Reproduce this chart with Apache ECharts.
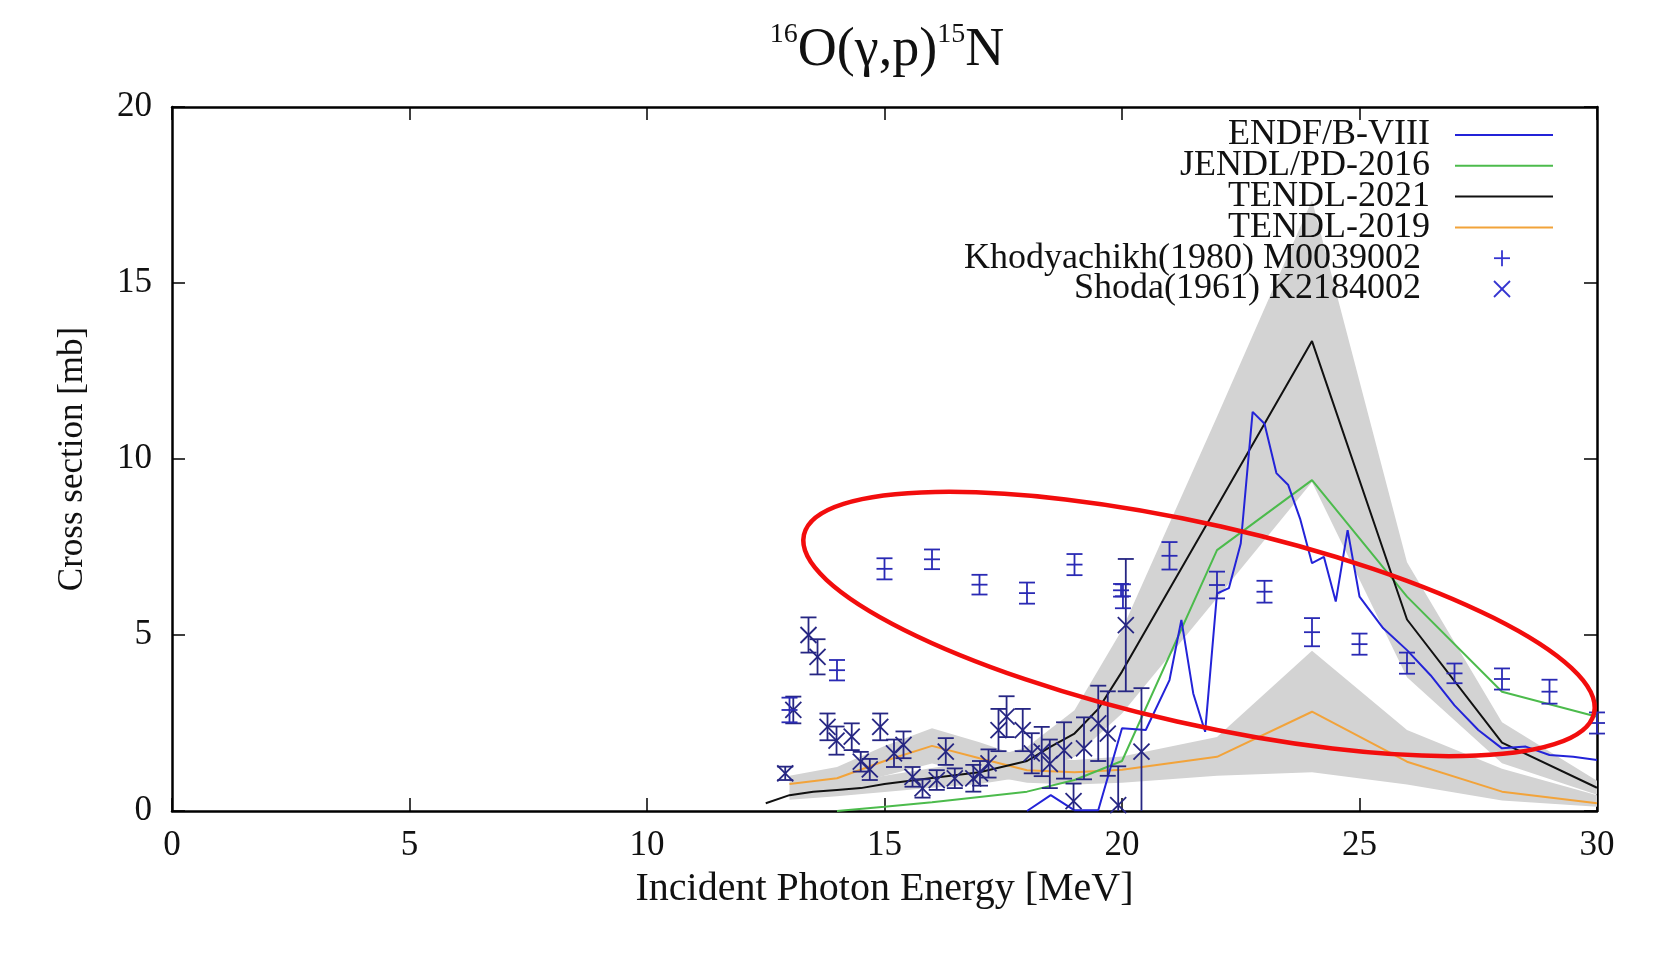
<!DOCTYPE html>
<html>
<head>
<meta charset="utf-8">
<script src="https://cdn.jsdelivr.net/npm/echarts@6/dist/echarts.min.js"></script>
<style>
  html, body { margin: 0; padding: 0; background: #fff; }
  #chart { width: 1653px; height: 961px; }
</style>
</head>
<body>
<div id="chart"></div>
<script>
// ---- Evaluated cross sections, 16O(γ,p)15N  (energy in MeV, cross section in mb) ----
const endfE   = [18.0, 18.5, 19.0, 19.5, 20.0, 20.5, 21.0, 21.25, 21.5, 21.75, 22.0, 22.25, 22.5, 22.75, 23.0, 23.25, 23.5, 23.75, 24.0, 24.25, 24.5, 24.75, 25.0, 25.5, 26.0, 26.5, 27.0, 27.5, 28.0, 28.5, 29.0, 29.5, 30.0];
const endfXS  = [0.0, 0.45, 0.02, 0.02, 2.35, 2.3, 3.72, 5.43, 3.34, 2.25, 6.18, 6.33, 7.6, 11.34, 11.0, 9.6, 9.26, 8.3, 7.04, 7.22, 5.95, 7.98, 6.09, 5.19, 4.57, 3.85, 3.0, 2.3, 1.78, 1.83, 1.59, 1.54, 1.45];

const jendlE  = [14.0, 15.0, 16.0, 17.0, 18.0, 19.0, 20.0, 22.0, 24.0, 26.0, 28.0, 30.0];
const jendlXS = [0.0, 0.12, 0.25, 0.4, 0.55, 0.88, 1.42, 7.41, 9.4, 6.09, 3.39, 2.68];

const t21E    = [12.5, 13.0, 13.5, 14.0, 14.5, 15.0, 16.0, 17.0, 18.0, 18.5, 19.0, 19.5, 20.0, 22.0, 24.0, 26.0, 28.0, 30.0];
const t21XS   = [0.22, 0.45, 0.55, 0.6, 0.65, 0.77, 0.94, 1.1, 1.42, 1.83, 2.2, 2.9, 3.96, 8.65, 13.35, 5.44, 1.94, 0.66];

const t19E    = [13.0, 14.0, 15.0, 16.0, 17.0, 18.0, 19.0, 20.0, 22.0, 24.0, 26.0, 28.0, 30.0];
const t19XS   = [0.77, 0.93, 1.42, 1.85, 1.5, 1.16, 1.1, 1.17, 1.54, 2.82, 1.4, 0.55, 0.22];

// ---- Uncertainty bands (lower / upper limits) ----
const t21BandE  = [13.0, 14.0, 15.0, 16.0, 17.0, 18.0, 19.0, 20.0, 22.0, 24.0, 26.0, 28.0, 30.0];
const t21BandLo = [0.32, 0.42, 0.54, 0.66, 0.77, 0.98, 1.54, 2.77, 6.05, 9.35, 3.8, 1.36, 0.46];
const t21BandHi = [0.58, 0.78, 1.0, 1.22, 1.43, 1.82, 2.86, 5.15, 11.2, 17.35, 7.07, 2.52, 0.86];

const t19BandE  = [13.0, 14.0, 15.0, 16.0, 17.0, 18.0, 19.0, 20.0, 22.0, 24.0, 26.0, 28.0, 30.0];
const t19BandLo = [0.55, 0.65, 1.0, 1.35, 1.05, 0.8, 0.75, 0.8, 1.0, 1.1, 0.75, 0.3, 0.12];
const t19BandHi = [1.0, 1.25, 1.85, 2.35, 1.95, 1.5, 1.45, 1.55, 2.1, 4.55, 2.3, 1.2, 0.45];

// ---- Experimental data (EXFOR) ----
const khodE   = [13.0, 14.0, 15.0, 16.0, 17.0, 18.0, 19.0, 19.98, 20.02, 21.0, 22.0, 23.0, 24.0, 25.0, 26.0, 27.0, 28.0, 29.0, 30.0];
const khodXS  = [2.87, 4.0, 6.88, 7.15, 6.43, 6.19, 7.0, 6.27, 6.1, 7.25, 6.42, 6.23, 5.08, 4.74, 4.2, 3.91, 3.75, 3.39, 2.5];
const khodErr = [0.35, 0.29, 0.3, 0.28, 0.28, 0.3, 0.3, 0.18, 0.34, 0.39, 0.38, 0.31, 0.4, 0.3, 0.3, 0.28, 0.3, 0.34, 0.3];

const shodaE   = [12.91, 13.08, 13.4, 13.59, 13.8, 13.99, 14.31, 14.5, 14.69, 14.91, 15.2, 15.4, 15.59, 15.8, 16.1, 16.29, 16.48, 16.87, 17.01, 17.19, 17.4, 17.57, 17.91, 18.1, 18.31, 18.48, 18.78, 18.98, 19.2, 19.5, 19.7, 19.92, 20.08, 20.41];
const shodaXS  = [1.07, 2.87, 5.0, 4.38, 2.39, 2.0, 2.11, 1.4, 1.18, 2.39, 1.64, 1.88, 0.97, 0.64, 0.88, 1.69, 0.93, 0.93, 1.07, 1.35, 2.3, 2.68, 2.3, 1.64, 1.69, 1.34, 1.72, 0.28, 1.78, 2.49, 2.2, 0.17, 5.28, 1.69];
const shodaErr = [0.19, 0.38, 0.5, 0.5, 0.38, 0.4, 0.38, 0.28, 0.3, 0.38, 0.39, 0.38, 0.28, 0.26, 0.28, 0.38, 0.28, 0.38, 0.35, 0.4, 0.6, 0.58, 0.6, 0.57, 0.7, 0.69, 0.8, 0.5, 0.88, 1.07, 1.2, 1.1, 1.88, 1.8];

// ---- Axis ticks ----
const xTicks = [0, 5, 10, 15, 20, 25, 30];
const yTicks = [0, 5, 10, 15, 20];

const SERIF = '"Liberation Serif", "DejaVu Serif", serif';
const C_ENDF = '#2323d8', C_JENDL = '#4cbb4c', C_T21 = '#111111', C_T19 = '#f2a33a';
const C_KHOD = '#2a2ab4', C_SHODA = '#262683', C_BAND = '#d3d3d3';

const zip = (xs, ys) => xs.map((x, i) => [x, ys[i]]);

function lineSeries(name, xs, ys, color) {
  return {
    name, type: 'line', data: zip(xs, ys), showSymbol: false, symbol: 'none',
    lineStyle: { color, width: 2 }, z: 3, animation: false, silent: true
  };
}

function bandSeries(name, es, lo, hi) {
  return {
    name, type: 'custom', z: 1, silent: true, animation: false,
    data: es.map((e, i) => [e, lo[i], hi[i]]),
    renderItem: function (params, api) {
      if (params.dataIndex !== 0) return null;
      const pts = [];
      for (let i = 0; i < es.length; i++) pts.push(api.coord([es[i], hi[i]]));
      for (let i = es.length - 1; i >= 0; i--) pts.push(api.coord([es[i], lo[i]]));
      return { type: 'polygon', shape: { points: pts }, style: { fill: C_BAND, stroke: null } };
    }
  };
}

function errorSeries(name, es, ys, errs, color, mark) {
  return {
    name, type: 'custom', z: 4, silent: true, animation: false,
    data: es.map((e, i) => [e, ys[i], errs[i]]),
    renderItem: function (params, api) {
      const x = api.value(0), y = api.value(1), e = api.value(2);
      const c = api.coord([x, y]);
      const lo = api.coord([x, Math.max(0, y - e)]);
      const hi = api.coord([x, y + e]);
      const cap = 8, m = 8;
      const st = { stroke: color, lineWidth: 1.8, fill: null };
      const kids = [
        { type: 'line', shape: { x1: c[0], y1: lo[1], x2: c[0], y2: hi[1] }, style: st },
        { type: 'line', shape: { x1: c[0] - cap, y1: hi[1], x2: c[0] + cap, y2: hi[1] }, style: st }
      ];
      if (y - e > 0) kids.push({ type: 'line', shape: { x1: c[0] - cap, y1: lo[1], x2: c[0] + cap, y2: lo[1] }, style: st });
      if (mark === 'plus') {
        kids.push({ type: 'line', shape: { x1: c[0] - m, y1: c[1], x2: c[0] + m, y2: c[1] }, style: st });
      } else {
        kids.push({ type: 'line', shape: { x1: c[0] - m, y1: c[1] - m, x2: c[0] + m, y2: c[1] + m }, style: st });
        kids.push({ type: 'line', shape: { x1: c[0] - m, y1: c[1] + m, x2: c[0] + m, y2: c[1] - m }, style: st });
      }
      return { type: 'group', children: kids };
    }
  };
}

// legend at the upper right: text right-aligned, sample to its right
const legendRows = [
  { label: 'ENDF/B-VIII', kind: 'line', color: C_ENDF, tx: 1430 },
  { label: 'JENDL/PD-2016', kind: 'line', color: C_JENDL, tx: 1430 },
  { label: 'TENDL-2021', kind: 'line', color: C_T21, tx: 1430 },
  { label: 'TENDL-2019', kind: 'line', color: C_T19, tx: 1430 },
  { label: 'Khodyachikh(1980) M0039002', kind: 'plus', color: '#3434d0', tx: 1421 },
  { label: 'Shoda(1961) K2184002', kind: 'cross', color: '#3434d0', tx: 1421 }
];
const legendGraphics = [];
legendRows.forEach((r, i) => {
  const y = 135 + i * 30.8;
  legendGraphics.push({
    type: 'text', x: r.tx, y: y, z: 50,
    style: { text: r.label, font: '36px ' + SERIF, fill: '#111', align: 'right', verticalAlign: 'middle' }
  });
  if (r.kind === 'line') {
    legendGraphics.push({ type: 'line', z: 50, shape: { x1: 1455, y1: y, x2: 1553, y2: y }, style: { stroke: r.color, lineWidth: 2 } });
  } else if (r.kind === 'plus') {
    legendGraphics.push({ type: 'line', z: 50, shape: { x1: 1494, y1: y, x2: 1510, y2: y }, style: { stroke: r.color, lineWidth: 1.8 } });
    legendGraphics.push({ type: 'line', z: 50, shape: { x1: 1502, y1: y - 8, x2: 1502, y2: y + 8 }, style: { stroke: r.color, lineWidth: 1.8 } });
  } else {
    legendGraphics.push({ type: 'line', z: 50, shape: { x1: 1494, y1: y - 8, x2: 1510, y2: y + 8 }, style: { stroke: r.color, lineWidth: 1.8 } });
    legendGraphics.push({ type: 'line', z: 50, shape: { x1: 1494, y1: y + 8, x2: 1510, y2: y - 8 }, style: { stroke: r.color, lineWidth: 1.8 } });
  }
});

// red highlight ellipse around the Khodyachikh points
legendGraphics.push({
  type: 'ellipse', x: 1199, y: 624, rotation: -0.222, z: 60,
  shape: { cx: 0, cy: 0, rx: 405, ry: 100 },
  style: { fill: null, stroke: '#f20d0d', lineWidth: 4.5 }
});

const axisCommon = {
  type: 'value', splitLine: { show: false },
  axisLine: { show: true, onZero: false, lineStyle: { color: '#000', width: 2.5 } },
  axisTick: { show: true, inside: true, length: 13, lineStyle: { color: '#000', width: 1.5 } }
};

const chart = echarts.init(document.getElementById('chart'), null, { renderer: 'canvas' });
chart.setOption({
  backgroundColor: '#ffffff',
  animation: false,
  title: {
    text: '{s|16}{m|O(γ,p)}{s|15}{m|N}',
    left: 882, top: 16, textAlign: 'center',
    textStyle: {
      fontWeight: 'normal',
      rich: {
        s: { fontFamily: SERIF, fontSize: 28, fontWeight: 'normal', color: '#111', verticalAlign: 'top', lineHeight: 60 },
        m: { fontFamily: SERIF, fontSize: 54, fontWeight: 'normal', color: '#111', lineHeight: 60 }
      }
    }
  },
  grid: { left: 172, right: 56, top: 107, bottom: 150, containLabel: false },
  xAxis: [
    Object.assign({}, axisCommon, {
      min: 0, max: 30, interval: 5, position: 'bottom',
      axisLabel: { fontFamily: SERIF, fontSize: 35, color: '#111', margin: 17,
        formatter: v => (xTicks.indexOf(v) >= 0 ? String(v) : '') },
      name: 'Incident Photon Energy [MeV]', nameLocation: 'middle', nameGap: 58,
      nameTextStyle: { fontFamily: SERIF, fontSize: 40, color: '#111' }
    }),
    Object.assign({}, axisCommon, { min: 0, max: 30, interval: 5, position: 'top', axisLabel: { show: false } })
  ],
  yAxis: [
    Object.assign({}, axisCommon, {
      min: 0, max: 20, interval: 5, position: 'left',
      axisLabel: { fontFamily: SERIF, fontSize: 35, color: '#111', margin: 20, padding: [8, 0, 0, 0],
        formatter: v => (yTicks.indexOf(v) >= 0 ? String(v) : '') },
      name: 'Cross section [mb]', nameLocation: 'middle', nameGap: 82,
      nameTextStyle: { fontFamily: SERIF, fontSize: 35, color: '#111' }
    }),
    Object.assign({}, axisCommon, { min: 0, max: 20, interval: 5, position: 'right', axisLabel: { show: false } })
  ],
  series: [
    bandSeries('TENDL-2021 band', t21BandE, t21BandLo, t21BandHi),
    bandSeries('TENDL-2019 band', t19BandE, t19BandLo, t19BandHi),
    lineSeries('TENDL-2019', t19E, t19XS, C_T19),
    lineSeries('JENDL/PD-2016', jendlE, jendlXS, C_JENDL),
    lineSeries('TENDL-2021', t21E, t21XS, C_T21),
    lineSeries('ENDF/B-VIII', endfE, endfXS, C_ENDF),
    errorSeries('Shoda(1961) K2184002', shodaE, shodaXS, shodaErr, C_SHODA, 'cross'),
    errorSeries('Khodyachikh(1980) M0039002', khodE, khodXS, khodErr, C_KHOD, 'plus')
  ],
  graphic: legendGraphics
});
</script>
</body>
</html>
